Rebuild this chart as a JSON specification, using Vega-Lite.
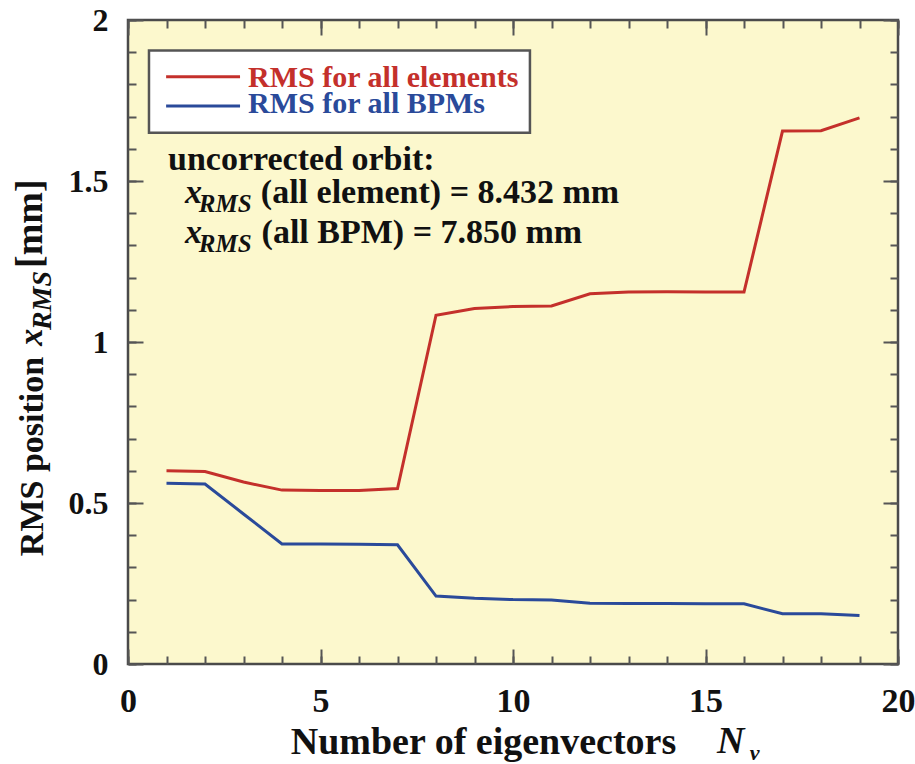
{
  "$schema": "https://vega.github.io/schema/vega-lite/v6.json",
  "width": 770,
  "height": 644,
  "autosize": {"type": "none"},
  "padding": {"left": 128, "top": 20, "right": 17, "bottom": 100},
  "background": "white",
  "config": {
    "view": {"stroke": "#4a4a4a", "strokeWidth": 2.5, "fill": "#fcf8cd"},
    "axis": {"grid": false, "domain": false, "labelOverlap": false, "labelFlush": false},
    "text": {"font": "Liberation Serif"}
  },
  "resolve": {"axis": {"x": "independent", "y": "independent"}},
  "datasets": {
    "one": [{}],
    "curves": [
      {"n": 1, "rms": 0.600, "series": "RMS for all elements"},
      {"n": 2, "rms": 0.598, "series": "RMS for all elements"},
      {"n": 3, "rms": 0.565, "series": "RMS for all elements"},
      {"n": 4, "rms": 0.540, "series": "RMS for all elements"},
      {"n": 5, "rms": 0.539, "series": "RMS for all elements"},
      {"n": 6, "rms": 0.539, "series": "RMS for all elements"},
      {"n": 7, "rms": 0.545, "series": "RMS for all elements"},
      {"n": 8, "rms": 1.083, "series": "RMS for all elements"},
      {"n": 9, "rms": 1.104, "series": "RMS for all elements"},
      {"n": 10, "rms": 1.110, "series": "RMS for all elements"},
      {"n": 11, "rms": 1.112, "series": "RMS for all elements"},
      {"n": 12, "rms": 1.150, "series": "RMS for all elements"},
      {"n": 13, "rms": 1.155, "series": "RMS for all elements"},
      {"n": 14, "rms": 1.156, "series": "RMS for all elements"},
      {"n": 15, "rms": 1.155, "series": "RMS for all elements"},
      {"n": 16, "rms": 1.155, "series": "RMS for all elements"},
      {"n": 17, "rms": 1.655, "series": "RMS for all elements"},
      {"n": 18, "rms": 1.656, "series": "RMS for all elements"},
      {"n": 19, "rms": 1.696, "series": "RMS for all elements"},
      {"n": 1, "rms": 0.561, "series": "RMS for all BPMs"},
      {"n": 2, "rms": 0.559, "series": "RMS for all BPMs"},
      {"n": 3, "rms": 0.466, "series": "RMS for all BPMs"},
      {"n": 4, "rms": 0.373, "series": "RMS for all BPMs"},
      {"n": 5, "rms": 0.373, "series": "RMS for all BPMs"},
      {"n": 6, "rms": 0.372, "series": "RMS for all BPMs"},
      {"n": 7, "rms": 0.370, "series": "RMS for all BPMs"},
      {"n": 8, "rms": 0.211, "series": "RMS for all BPMs"},
      {"n": 9, "rms": 0.204, "series": "RMS for all BPMs"},
      {"n": 10, "rms": 0.200, "series": "RMS for all BPMs"},
      {"n": 11, "rms": 0.199, "series": "RMS for all BPMs"},
      {"n": 12, "rms": 0.189, "series": "RMS for all BPMs"},
      {"n": 13, "rms": 0.188, "series": "RMS for all BPMs"},
      {"n": 14, "rms": 0.188, "series": "RMS for all BPMs"},
      {"n": 15, "rms": 0.187, "series": "RMS for all BPMs"},
      {"n": 16, "rms": 0.187, "series": "RMS for all BPMs"},
      {"n": 17, "rms": 0.156, "series": "RMS for all BPMs"},
      {"n": 18, "rms": 0.156, "series": "RMS for all BPMs"},
      {"n": 19, "rms": 0.151, "series": "RMS for all BPMs"}
    ]
  },
  "layer": [
    {
      "data": {"name": "curves"},
      "mark": {"type": "line", "strokeWidth": 3},
      "encoding": {
        "x": {"field": "n", "type": "quantitative", "scale": {"domain": [0, 20], "nice": false, "zero": false},
          "axis": {"orient": "bottom", "values": [0, 5, 10, 15, 20], "ticks": false, "labelPadding": 20, "labelFont": "Liberation Serif", "labelFontSize": 34, "labelFontWeight": "bold", "labelColor": "#111", "format": "~g",
            "title": "Number of eigenvectors", "titleFont": "Liberation Serif", "titleFontSize": 38, "titleFontWeight": "bold", "titleColor": "#111", "titleX": 355, "titleY": 89, "titleBaseline": "alphabetic", "titleAlign": "center"}},
        "y": {"field": "rms", "type": "quantitative", "scale": {"domain": [0, 2], "nice": false, "zero": false},
          "axis": {"orient": "left", "values": [0, 0.5, 1, 1.5, 2], "ticks": false, "labelPadding": 20, "labelFont": "Liberation Serif", "labelFontSize": 32, "labelFontWeight": "bold", "labelColor": "#111", "format": "~g",
            "title": "RMS position", "titleFont": "Liberation Serif", "titleFontSize": 34, "titleFontWeight": "bold", "titleColor": "#111", "titleAngle": 270, "titleX": -86, "titleY": 436, "titleBaseline": "alphabetic", "titleAlign": "center"}},
        "color": {"field": "series", "type": "nominal", "scale": {"domain": ["RMS for all elements", "RMS for all BPMs"], "range": ["#c4302b", "#2a4a9a"]}, "legend": null}
      }
    },
    {
      "data": {"name": "one"},
      "mark": {"type": "rect", "fill": "white", "stroke": "#555", "strokeWidth": 2.5},
      "encoding": {
        "x": {"datum": 0.545, "type": "quantitative", "scale": {"domain": [0, 20], "nice": false, "zero": false},
          "axis": {"orient": "bottom", "values": [0, 5, 10, 15, 20], "labels": false, "title": null, "tickSize": -15, "tickWidth": 2, "tickColor": "#555"}},
        "x2": {"datum": 10.44},
        "y": {"datum": 1.65, "type": "quantitative", "scale": {"domain": [0, 2], "nice": false, "zero": false},
          "axis": {"orient": "left", "values": [0, 0.5, 1, 1.5, 2], "labels": false, "title": null, "tickSize": -15, "tickWidth": 2, "tickColor": "#555"}},
        "y2": {"datum": 1.905}
      }
    },
    {
      "data": {"name": "one"},
      "mark": {"type": "rule", "stroke": "#c4302b", "strokeWidth": 3},
      "encoding": {
        "x": {"datum": 0.99, "type": "quantitative", "scale": {"domain": [0, 20], "nice": false, "zero": false},
          "axis": {"orient": "bottom", "values": [0,1,2,3,4,5,6,7,8,9,10,11,12,13,14,15,16,17,18,19,20], "labels": false, "title": null, "tickSize": -8, "tickWidth": 2, "tickColor": "#555"}},
        "x2": {"datum": 2.91},
        "y": {"datum": 1.824, "type": "quantitative", "scale": {"domain": [0, 2], "nice": false, "zero": false},
          "axis": {"orient": "left", "values": [0,0.1,0.2,0.3,0.4,0.5,0.6,0.7,0.8,0.9,1,1.1,1.2,1.3,1.4,1.5,1.6,1.7,1.8,1.9,2], "labels": false, "title": null, "tickSize": -8, "tickWidth": 2, "tickColor": "#555"}}
      }
    },
    {
      "data": {"name": "one"},
      "mark": {"type": "rule", "stroke": "#2a4a9a", "strokeWidth": 3},
      "encoding": {
        "x": {"datum": 0.99, "type": "quantitative", "scale": {"domain": [0, 20], "nice": false, "zero": false},
          "axis": {"orient": "top", "values": [0, 5, 10, 15, 20], "labels": false, "title": null, "tickSize": -15, "tickWidth": 2, "tickColor": "#555"}},
        "x2": {"datum": 2.91},
        "y": {"datum": 1.733, "type": "quantitative", "scale": {"domain": [0, 2], "nice": false, "zero": false},
          "axis": {"orient": "right", "values": [0, 0.5, 1, 1.5, 2], "labels": false, "title": null, "tickSize": -15, "tickWidth": 2, "tickColor": "#555"}}
      }
    },
    {
      "data": {"name": "one"},
      "mark": {"type": "text", "text": "RMS for all elements", "fill": "#c4302b", "fontSize": 30, "fontWeight": "bold", "align": "left", "baseline": "alphabetic"},
      "encoding": {
        "x": {"datum": 3.12, "type": "quantitative", "scale": {"domain": [0, 20], "nice": false, "zero": false},
          "axis": {"orient": "top", "values": [0,1,2,3,4,5,6,7,8,9,10,11,12,13,14,15,16,17,18,19,20], "labels": false, "title": null, "tickSize": -8, "tickWidth": 2, "tickColor": "#555"}},
        "y": {"datum": 1.793, "type": "quantitative", "scale": {"domain": [0, 2], "nice": false, "zero": false},
          "axis": {"orient": "right", "values": [0,0.1,0.2,0.3,0.4,0.5,0.6,0.7,0.8,0.9,1,1.1,1.2,1.3,1.4,1.5,1.6,1.7,1.8,1.9,2], "labels": false, "title": null, "tickSize": -8, "tickWidth": 2, "tickColor": "#555"}}
      }
    },
    {
      "data": {"name": "one"},
      "mark": {"type": "text", "text": "RMS for all BPMs", "fill": "#2a4a9a", "fontSize": 30, "fontWeight": "bold", "align": "left", "baseline": "alphabetic"},
      "encoding": {
        "x": {"datum": 3.12, "type": "quantitative", "scale": {"domain": [0, 20], "nice": false, "zero": false}, "axis": null},
        "y": {"datum": 1.710, "type": "quantitative", "scale": {"domain": [0, 2], "nice": false, "zero": false}, "axis": null}
      }
    },
    {
      "data": {"name": "one"},
      "mark": {"type": "text", "text": "uncorrected orbit:", "fill": "#111", "fontSize": 34, "fontWeight": "bold", "align": "left", "baseline": "alphabetic"},
      "encoding": {
        "x": {"datum": 1.04, "type": "quantitative", "scale": {"domain": [0, 20], "nice": false, "zero": false}, "axis": null},
        "y": {"datum": 1.534, "type": "quantitative", "scale": {"domain": [0, 2], "nice": false, "zero": false}, "axis": null}
      }
    },
    {
      "data": {"name": "one"},
      "mark": {"type": "text", "text": "x", "fill": "#111", "fontSize": 34, "fontWeight": "bold", "fontStyle": "italic", "align": "left", "baseline": "alphabetic"},
      "encoding": {
        "x": {"datum": 1.48, "type": "quantitative", "scale": {"domain": [0, 20], "nice": false, "zero": false}, "axis": null},
        "y": {"datum": 1.431, "type": "quantitative", "scale": {"domain": [0, 2], "nice": false, "zero": false}, "axis": null}
      }
    },
    {
      "data": {"name": "one"},
      "mark": {"type": "text", "text": "RMS", "fill": "#111", "fontSize": 25, "fontWeight": "bold", "fontStyle": "italic", "align": "left", "baseline": "alphabetic"},
      "encoding": {
        "x": {"datum": 1.84, "type": "quantitative", "scale": {"domain": [0, 20], "nice": false, "zero": false}, "axis": null},
        "y": {"datum": 1.405, "type": "quantitative", "scale": {"domain": [0, 2], "nice": false, "zero": false}, "axis": null}
      }
    },
    {
      "data": {"name": "one"},
      "mark": {"type": "text", "text": "(all element) = 8.432 mm", "fill": "#111", "fontSize": 34, "fontWeight": "bold", "align": "left", "baseline": "alphabetic"},
      "encoding": {
        "x": {"datum": 3.45, "type": "quantitative", "scale": {"domain": [0, 20], "nice": false, "zero": false}, "axis": null},
        "y": {"datum": 1.431, "type": "quantitative", "scale": {"domain": [0, 2], "nice": false, "zero": false}, "axis": null}
      }
    },
    {
      "data": {"name": "one"},
      "mark": {"type": "text", "text": "x", "fill": "#111", "fontSize": 34, "fontWeight": "bold", "fontStyle": "italic", "align": "left", "baseline": "alphabetic"},
      "encoding": {
        "x": {"datum": 1.48, "type": "quantitative", "scale": {"domain": [0, 20], "nice": false, "zero": false}, "axis": null},
        "y": {"datum": 1.307, "type": "quantitative", "scale": {"domain": [0, 2], "nice": false, "zero": false}, "axis": null}
      }
    },
    {
      "data": {"name": "one"},
      "mark": {"type": "text", "text": "RMS", "fill": "#111", "fontSize": 25, "fontWeight": "bold", "fontStyle": "italic", "align": "left", "baseline": "alphabetic"},
      "encoding": {
        "x": {"datum": 1.84, "type": "quantitative", "scale": {"domain": [0, 20], "nice": false, "zero": false}, "axis": null},
        "y": {"datum": 1.281, "type": "quantitative", "scale": {"domain": [0, 2], "nice": false, "zero": false}, "axis": null}
      }
    },
    {
      "data": {"name": "one"},
      "mark": {"type": "text", "text": "(all BPM) = 7.850 mm", "fill": "#111", "fontSize": 34, "fontWeight": "bold", "align": "left", "baseline": "alphabetic"},
      "encoding": {
        "x": {"datum": 3.47, "type": "quantitative", "scale": {"domain": [0, 20], "nice": false, "zero": false}, "axis": null},
        "y": {"datum": 1.307, "type": "quantitative", "scale": {"domain": [0, 2], "nice": false, "zero": false}, "axis": null}
      }
    },
    {
      "data": {"name": "one"},
      "mark": {"type": "text", "text": "x", "fill": "#111", "fontSize": 34, "fontWeight": "bold", "fontStyle": "italic", "align": "left", "baseline": "alphabetic", "angle": 270},
      "encoding": {
        "x": {"datum": -2.234, "type": "quantitative", "scale": {"domain": [0, 20], "nice": false, "zero": false}, "axis": null},
        "y": {"datum": 0.988, "type": "quantitative", "scale": {"domain": [0, 2], "nice": false, "zero": false}, "axis": null}
      }
    },
    {
      "data": {"name": "one"},
      "mark": {"type": "text", "text": "RMS", "fill": "#111", "fontSize": 28, "fontWeight": "bold", "fontStyle": "italic", "align": "left", "baseline": "alphabetic", "angle": 270},
      "encoding": {
        "x": {"datum": -2.0, "type": "quantitative", "scale": {"domain": [0, 20], "nice": false, "zero": false}, "axis": null},
        "y": {"datum": 1.037, "type": "quantitative", "scale": {"domain": [0, 2], "nice": false, "zero": false}, "axis": null}
      }
    },
    {
      "data": {"name": "one"},
      "mark": {"type": "text", "text": "[mm]", "fill": "#111", "fontSize": 38, "fontWeight": "bold", "align": "left", "baseline": "alphabetic", "angle": 270},
      "encoding": {
        "x": {"datum": -2.234, "type": "quantitative", "scale": {"domain": [0, 20], "nice": false, "zero": false}, "axis": null},
        "y": {"datum": 1.23, "type": "quantitative", "scale": {"domain": [0, 2], "nice": false, "zero": false}, "axis": null}
      }
    },
    {
      "data": {"name": "one"},
      "mark": {"type": "text", "text": "N", "fill": "#111", "fontSize": 38, "fontWeight": "bold", "fontStyle": "italic", "align": "left", "baseline": "alphabetic"},
      "encoding": {
        "x": {"datum": 15.3, "type": "quantitative", "scale": {"domain": [0, 20], "nice": false, "zero": false}, "axis": null},
        "y": {"datum": -0.277, "type": "quantitative", "scale": {"domain": [0, 2], "nice": false, "zero": false}, "axis": null}
      }
    },
    {
      "data": {"name": "one"},
      "mark": {"type": "text", "text": "ν", "fill": "#111", "fontSize": 22, "fontWeight": "bold", "fontStyle": "italic", "align": "left", "baseline": "alphabetic"},
      "encoding": {
        "x": {"datum": 16.15, "type": "quantitative", "scale": {"domain": [0, 20], "nice": false, "zero": false}, "axis": null},
        "y": {"datum": -0.298, "type": "quantitative", "scale": {"domain": [0, 2], "nice": false, "zero": false}, "axis": null}
      }
    }
  ]
}
